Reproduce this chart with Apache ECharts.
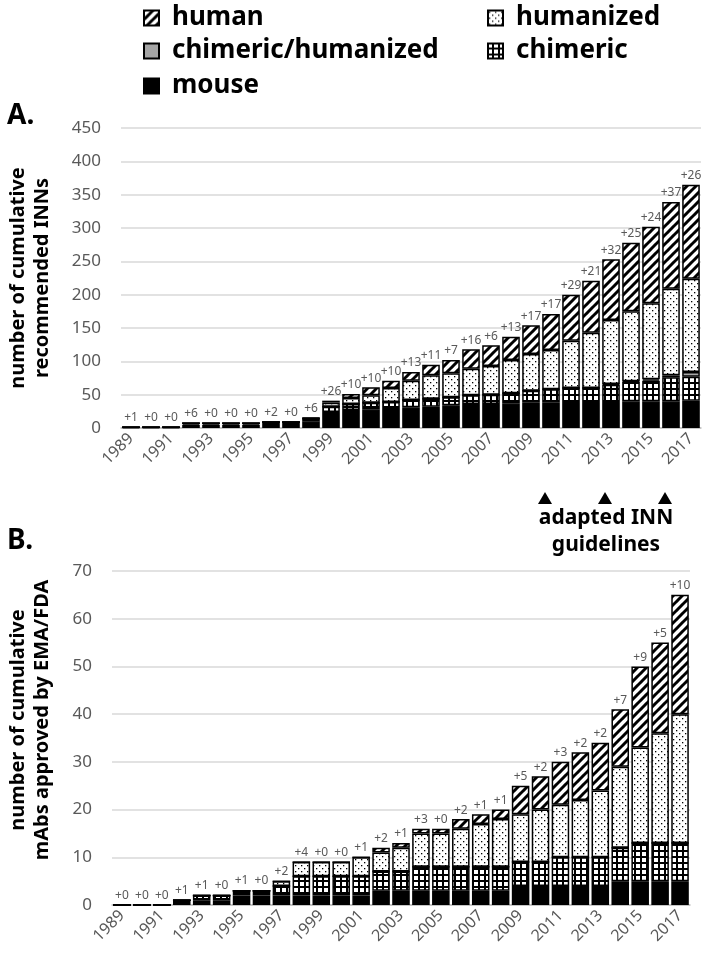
<!DOCTYPE html>
<html><head><meta charset="utf-8">
<script src="https://cdn.jsdelivr.net/npm/echarts@6/dist/echarts.min.js"></script>
<style>html,body{margin:0;padding:0;background:#fff}#c{width:703px;height:966px}</style>
</head><body><div id="c"></div>
<script>
// ---- data ----
const years = ['1989','1990','1991','1992','1993','1994','1995','1996','1997','1998','1999','2000','2001','2002','2003','2004','2005','2006','2007','2008','2009','2010','2011','2012','2013','2014','2015','2016','2017'];
// A. cumulative recommended INNs
const mouseA    = [1,1,1,5,5,5,5,6,6,10,24,27,28,30,31,32,34,36,36,37,38,38,39,39,39,40,40,40,41];
const chimericA = [0,0,0,2,2,2,2,3,3,4,8,9,10,9,11,12,12,13,14,15,18,20,21,21,26,29,31,36,36];
const chimHumA  = [0,0,0,0,0,0,0,0,0,0,0,0,0,0,0,0,0,0,0,0,0,0,0,0,1,1,2,3,7];
const humanizedA= [0,0,0,0,0,0,0,0,0,1,6,9,11,21,29,35,36,40,43,50,55,59,71,83,96,105,114,130,140];
const humanA    = [0,0,0,0,0,0,0,0,0,0,3,6,12,11,13,16,20,29,31,35,43,54,69,78,91,103,115,130,141];
const incA      = [1,0,0,6,0,0,0,2,0,6,26,10,10,10,13,11,7,16,6,13,17,17,29,21,32,25,24,37,26];
// B. cumulative mAbs approved by EMA/FDA
const mouseB    = [0,0,0,1,1,1,2,2,2,2,2,2,2,3,3,3,3,3,3,3,4,4,4,4,4,5,5,5,5];
const chimericB = [0,0,0,0,1,1,1,1,2,4,4,4,4,4,4,5,5,5,5,5,5,5,6,6,6,7,8,8,8];
const chimHumB  = [0,0,0,0,0,0,0,0,0,0,0,0,0,0,0,0,0,0,0,0,0,0,0,0,0,0,0,0,0];
const humanizedB= [0,0,0,0,0,0,0,0,1,3,3,3,4,4,5,7,7,8,9,10,10,11,11,12,14,17,20,23,27];
const humanB    = [0,0,0,0,0,0,0,0,0,0,0,0,0,1,1,1,1,2,2,2,6,7,9,10,10,12,17,19,25];
const incB      = [0,0,0,1,1,0,1,0,2,4,0,0,1,2,1,3,0,2,1,1,5,2,3,2,2,7,9,5,10];
const guidelineYears = ['2010','2013','2016'];

// ---- patterns ----
function pat(w,h,draw){const c=document.createElement('canvas');c.width=w;c.height=h;const g=c.getContext('2d');g.fillStyle='#fff';g.fillRect(0,0,w,h);draw(g,w,h);return {image:c,repeat:'repeat'};}
const hatch = pat(9,9,(g,w,h)=>{g.strokeStyle='#000';g.lineWidth=3;for(const k of [-w,0,w]){g.beginPath();g.moveTo(k-1,h+1);g.lineTo(k+w+1,-1);g.stroke();}});
const dots = pat(6,6,(g)=>{g.fillStyle='#000';g.fillRect(1,1,1.3,1.3);g.fillRect(4,4,1.3,1.3);});
const grid = pat(6,6,(g)=>{g.fillStyle='#000';g.fillRect(0,0,6,6);g.fillStyle='#fff';g.fillRect(0,0,4,4);});
const gray = '#a6a6a6';
const F = '"Noto Sans", "Open Sans", sans-serif';

function mk(name,data,color,idx,extra){
  return Object.assign({type:'bar',name,stack:'s'+idx,xAxisIndex:idx,yAxisIndex:idx,data,
    barCategoryGap:'12%',itemStyle:{color,borderColor:'#000',borderWidth:1.5}},extra||{});
}
function lab(inc){return {show:true,position:'top',distance:3,fontSize:12,color:'#595959',fontFamily:F,
  formatter:p=>'+'+inc[p.dataIndex]};}

const legTxt = {fontSize:26,fontWeight:'bold',color:'#000',fontFamily:F,padding:[0,0,0,8]};
function leg(name,left,top){return {data:[name],left,top,icon:'rect',itemWidth:15,itemHeight:15,textStyle:legTxt,selectedMode:false};}

function xAx(i){return {type:'category',gridIndex:i,data:years,axisTick:{show:false},
  axisLine:{lineStyle:{color:'#bfbfbf',width:1.5}},
  axisLabel:{interval:1,rotate:45,fontSize:16,color:'#595959',fontFamily:F,margin:8}};}
function yAx(i,max,iv,name,gap,pad){return {type:'value',gridIndex:i,min:0,max,interval:iv,
  splitLine:{lineStyle:{color:'#d9d9d9',width:1.5}},axisLine:{show:false},axisTick:{show:false},
  axisLabel:{fontSize:17,color:'#595959',fontFamily:F,margin:20},
  name,nameLocation:'middle',nameRotate:90,nameGap:gap,
  nameTextStyle:{fontSize:20,fontWeight:'bold',color:'#000',fontFamily:F,lineHeight:24,align:'center',verticalAlign:'middle',padding:pad}};}

const chart = echarts.init(document.getElementById('c'),null,{renderer:'canvas'});
chart.setOption({
  animation:false,backgroundColor:'#fff',
  title:[{text:'A.',left:2,top:97,textStyle:{fontSize:28,fontWeight:'bold',color:'#000',fontFamily:F}},
         {text:'B.',left:2,top:522,textStyle:{fontSize:28,fontWeight:'bold',color:'#000',fontFamily:F}}],
  legend:[leg('human',138,0),leg('chimeric/humanized',138,33),leg('mouse',138,68),
          leg('humanized',482,0),leg('chimeric',482,33)],
  grid:[{left:121,top:128,width:580,height:300,outerBoundsMode:'none'},
        {left:112,top:571,width:578,height:334,outerBoundsMode:'none'}],
  xAxis:[xAx(0),xAx(1)],
  yAxis:[yAx(0,450,50,'number of cumulative\nrecommended INNs',91,[0,0,0,0]),
         yAx(1,70,10,'number of cumulative\nmAbs approved by EMA/FDA',82,[0,0,0,36])],
  series:[
    mk('mouse',mouseA,'#000',0), mk('chimeric',chimericA,grid,0), mk('chimeric/humanized',chimHumA,gray,0),
    mk('humanized',humanizedA,dots,0), mk('human',humanA,hatch,0,{label:lab(incA)}),
    mk('mouse',mouseB,'#000',1), mk('chimeric',chimericB,grid,1), mk('chimeric/humanized',chimHumB,gray,1),
    mk('humanized',humanizedB,dots,1), mk('human',humanB,hatch,1,{label:lab(incB)})
  ]
});
// annotation: triangles under the guideline years + text
const tri = guidelineYears.map(y=>{
  const x = chart.convertToPixel({xAxisIndex:0},y) - 6;
  return {type:'polygon',shape:{points:[[x-7,504],[x+7,504],[x,492]]},style:{fill:'#000'}};
});
chart.setOption({graphic:[...tri,
  {type:'text',style:{text:'adapted INN',x:606,y:508,align:'center',font:'bold 21px "Noto Sans"',fill:'#000'}},
  {type:'text',style:{text:'guidelines',x:606,y:535,align:'center',font:'bold 21px "Noto Sans"',fill:'#000'}}
]});
</script></body></html>
